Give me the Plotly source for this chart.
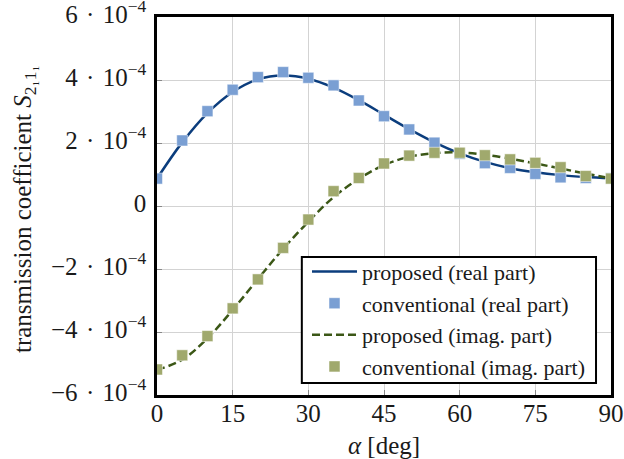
import plotly.graph_objects as go

alpha = [0, 5, 10, 15, 20, 25, 30, 35, 40, 45, 50, 55, 60, 65, 70, 75, 80, 85, 90]

# proposed (line) values, units of 1e-4
prop_real = [0.87, 2.02, 2.95, 3.62, 4.02, 4.14, 4.04, 3.76, 3.36, 2.9, 2.44, 2.02, 1.67, 1.4, 1.2, 1.07, 0.98, 0.92, 0.88]
prop_imag = [-5.2, -4.88, -4.2, -3.3, -2.32, -1.36, -0.5, 0.28, 0.86, 1.3, 1.56, 1.68, 1.7, 1.63, 1.5, 1.35, 1.19, 1.03, 0.88]

# conventional (markers) values, units of 1e-4
conv_real = [0.87, 2.08, 3.01, 3.69, 4.09, 4.25, 4.07, 3.83, 3.35, 2.85, 2.43, 2.01, 1.66, 1.36, 1.21, 1.02, 0.91, 0.89, 0.88]
conv_imag = [-5.19, -4.74, -4.13, -3.25, -2.33, -1.33, -0.43, 0.47, 0.89, 1.35, 1.6, 1.69, 1.69, 1.61, 1.48, 1.37, 1.23, 0.95, 0.87]

x_ticks = [0, 15, 30, 45, 60, 75, 90]
y_ticks = [-6, -4, -2, 0, 2, 4, 6]
sp = "\u2004"
y_labels = [f"−6{sp}·{sp}10<sup>−4</sup>", f"−4{sp}·{sp}10<sup>−4</sup>", f"−2{sp}·{sp}10<sup>−4</sup>", "0",
            f"2{sp}·{sp}10<sup>−4</sup>", f"4{sp}·{sp}10<sup>−4</sup>", f"6{sp}·{sp}10<sup>−4</sup>"]

scale = 1e-4
font_family = "Liberation Serif"
fsize = 25
lsize = 22
txt = "#1a1a1a"

fig = go.Figure()
fig.add_trace(go.Scatter(x=alpha, y=[v * scale for v in prop_real], mode="lines",
                         line=dict(color="#0b3d7d", width=2.5, shape="spline", smoothing=1.0),
                         name="proposed (real part)"))
fig.add_trace(go.Scatter(x=alpha, y=[v * scale for v in conv_real], mode="markers",
                         marker=dict(symbol="square", size=11, color="#7a9fd3",
                                     line=dict(color="white", width=0.5)),
                         name="conventional (real part)"))
fig.add_trace(go.Scatter(x=alpha, y=[v * scale for v in prop_imag], mode="lines",
                         line=dict(color="#3b5716", width=2.5, dash="8px,4px", shape="spline", smoothing=1.0),
                         name="proposed (imag. part)"))
fig.add_trace(go.Scatter(x=alpha, y=[v * scale for v in conv_imag], mode="markers",
                         marker=dict(symbol="square", size=11, color="#a0a96d",
                                     line=dict(color="white", width=0.5)),
                         name="conventional (imag. part)"))

fig.update_layout(
    width=624, height=459,
    margin=dict(l=157, r=13, t=17, b=64, autoexpand=False),
    paper_bgcolor="white", plot_bgcolor="white",
    font=dict(family=font_family, size=fsize, color=txt),
    showlegend=True,
    legend=dict(x=0.3304, y=0.019, xanchor="left", yanchor="bottom",
                borderwidth=0, bgcolor="rgba(0,0,0,0)",
                font=dict(family=font_family, size=lsize, color=txt),
                tracegroupgap=0, itemwidth=45),
    shapes=[
        dict(type="rect", xref="paper", yref="paper", x0=0.319, x1=0.967, y0=0.032, y1=0.365,
             fillcolor="white", line=dict(color="black", width=2), layer="above"),
    ],
    annotations=[
        dict(text="transmission coefficient <i>S</i><sub>2₁1₁</sub>", textangle=-90,
             xref="paper", yref="paper", x=-0.293, y=0.492, xanchor="center", yanchor="middle",
             showarrow=False, font=dict(family=font_family, size=fsize, color=txt)),
    ],
)
fig.update_xaxes(range=[0, 90], tickvals=x_ticks, ticktext=[str(t) for t in x_ticks],
                 showgrid=True, gridcolor="#d3d3d3", gridwidth=1,
                 showline=True, linecolor="black", linewidth=2.5, mirror=True,
                 ticks="inside", ticklen=5, tickcolor="#888", zeroline=False,
                 automargin=False, ticklabeloverflow="allow", ticklabelstandoff=-6,
                 tickfont=dict(size=fsize),
                 title=dict(text="<i>α</i> [deg]", standoff=21, font=dict(size=fsize)))
fig.update_yaxes(range=[-6 * scale, 6 * scale], tickvals=[t * scale for t in y_ticks], ticktext=y_labels,
                 showgrid=True, gridcolor="#d3d3d3", gridwidth=1,
                 showline=True, linecolor="black", linewidth=2.5, mirror=True,
                 ticks="inside", ticklen=5, tickcolor="#888", zeroline=False,
                 automargin=False, ticklabeloverflow="allow", ticklabelshift=-3, ticklabelstandoff=3,
                 tickfont=dict(size=fsize))

fig.write_html("out.html", config={"displayModeBar": False},
               post_script="document.body.style.margin='0';")
